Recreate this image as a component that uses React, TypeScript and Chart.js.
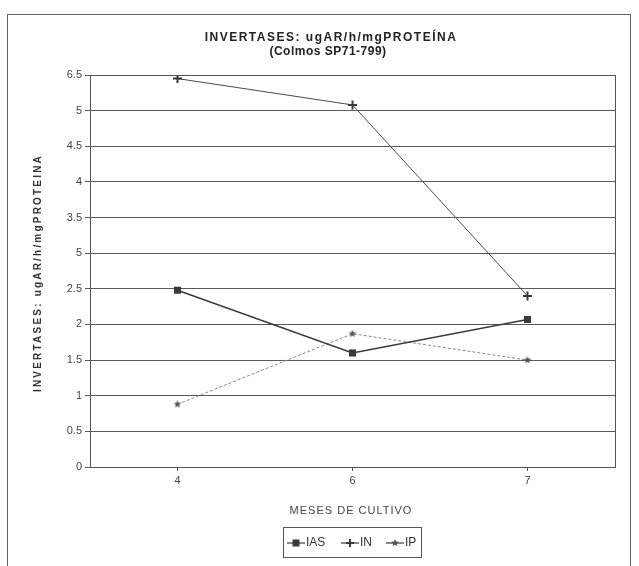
import React, { useEffect, useRef } from "react";
import { Chart, registerables } from "chart.js";

Chart.register(...registerables);

// Months of cultivation (x categories)
const categories = ["4", "6", "7"];

// Invertase activity per series
const iasValues = [2.48, 1.6, 2.07];
const inValues = [5.45, 5.08, 2.4];
const ipValues = [0.88, 1.87, 1.5];

const seriesNames = ["IAS", "IN", "IP"];

// Y tick labels, bottom to top, as printed on the axis
const yTickLabels = ["0", "0.5", "1", "1.5", "2", "2.5", "5", "3.5", "4", "4.5", "5", "6.5"];

const titleLines = ["INVERTASES: ugAR/h/mgPROTEÍNA", "(Colmos SP71-799)"];
const yTitle = "INVERTASES: ugAR/h/mgPROTEINA";
const xTitle = "MESES DE CULTIVO";

const FONT = "'Liberation Sans', Arial, sans-serif";
const NARROW = "'Liberation Sans Narrow', 'Liberation Sans', Arial, sans-serif";
const INK = "#3a3a3a";

function makeStar(size: number, color: string): HTMLCanvasElement {
  const c = document.createElement("canvas");
  c.width = size;
  c.height = size;
  const ctx = c.getContext("2d")!;
  const cx = size / 2;
  const cy = size / 2;
  const outer = size / 2;
  const inner = outer * 0.45;
  ctx.beginPath();
  for (let i = 0; i < 10; i++) {
    const r = i % 2 === 0 ? outer : inner;
    const a = -Math.PI / 2 + (i * Math.PI) / 5;
    const x = cx + r * Math.cos(a);
    const y = cy + r * Math.sin(a);
    if (i === 0) ctx.moveTo(x, y);
    else ctx.lineTo(x, y);
  }
  ctx.closePath();
  ctx.fillStyle = color;
  ctx.fill();
  return c;
}

function drawMarker(ctx: CanvasRenderingContext2D, kind: number, x: number, y: number, star: HTMLCanvasElement) {
  ctx.save();
  ctx.fillStyle = INK;
  ctx.strokeStyle = INK;
  if (kind === 0) {
    ctx.fillRect(x - 3.5, y - 3.5, 7, 7);
  } else if (kind === 1) {
    ctx.lineWidth = 2;
    ctx.beginPath();
    ctx.moveTo(x - 4, y);
    ctx.lineTo(x + 4, y);
    ctx.moveTo(x, y - 4);
    ctx.lineTo(x, y + 4);
    ctx.stroke();
  } else {
    ctx.drawImage(star, x - star.width / 2, y - star.height / 2);
  }
  ctx.restore();
}

export default function App() {
  const canvasRef = useRef<HTMLCanvasElement | null>(null);

  useEffect(() => {
    const canvas = canvasRef.current;
    if (!canvas) return;
    const star = makeStar(8, "#555");

    const decorations = {
      id: "decorations",
      afterDraw(chart: any) {
        const ctx: CanvasRenderingContext2D = chart.ctx;
        const area = chart.chartArea;
        ctx.save();

        // outer frame
        ctx.strokeStyle = "#666";
        ctx.lineWidth = 1;
        ctx.strokeRect(7.5, 14.5, 623, 600);

        // plot frame (top and right edges)
        ctx.strokeStyle = "#555";
        ctx.strokeRect(Math.round(area.left) + 0.5, Math.round(area.top) + 0.5, Math.round(area.right - area.left), Math.round(area.bottom - area.top));

        // title
        ctx.fillStyle = "#222";
        ctx.textAlign = "center";
        ctx.textBaseline = "middle";
        ctx.font = `bold 12px ${FONT}`;
        (ctx as any).letterSpacing = "1.5px";
        ctx.fillText(titleLines[0], 331, 38);
        (ctx as any).letterSpacing = "0.5px";
        ctx.fillText(titleLines[1], 328, 52);

        // y-axis title
        ctx.save();
        ctx.translate(38, (area.top + area.bottom) / 2 + 2);
        ctx.rotate(-Math.PI / 2);
        ctx.font = `bold 10px ${FONT}`;
        (ctx as any).letterSpacing = "2.2px";
        ctx.fillStyle = "#333";
        ctx.fillText(yTitle, 0, 0);
        ctx.restore();

        // x-axis title
        ctx.font = `11px ${FONT}`;
        (ctx as any).letterSpacing = "1px";
        ctx.fillStyle = "#444";
        ctx.fillText(xTitle, 351, 511);

        // legend box
        (ctx as any).letterSpacing = "0px";
        const boxL = 283;
        const boxR = 421;
        const boxT = 527;
        const boxB = 557;
        ctx.strokeStyle = "#555";
        ctx.strokeRect(boxL + 0.5, boxT + 0.5, boxR - boxL, boxB - boxT);
        const cy = (boxT + boxB) / 2 + 1;
        const starts = [287, 341, 386];
        ctx.font = `12px ${NARROW}`;
        ctx.textAlign = "left";
        seriesNames.forEach((name, i) => {
          const x0 = starts[i];
          ctx.strokeStyle = INK;
          ctx.lineWidth = 1.2;
          ctx.setLineDash([]);
          ctx.beginPath();
          ctx.moveTo(x0, cy);
          ctx.lineTo(x0 + 18, cy);
          ctx.stroke();
          drawMarker(ctx, i, x0 + 9, cy, star);
          ctx.fillStyle = "#333";
          ctx.fillText(name, x0 + 19, cy);
        });
        ctx.restore();
      },
    };

    const chart = new Chart(canvas, {
      type: "line",
      data: {
        labels: categories,
        datasets: [
          {
            label: seriesNames[0],
            data: iasValues,
            borderColor: INK,
            borderWidth: 1.4,
            backgroundColor: INK,
            pointStyle: "rect",
            pointRadius: 5,
            pointBorderWidth: 0,
            pointBackgroundColor: INK,
          },
          {
            label: seriesNames[1],
            data: inValues,
            borderColor: "#4a4a4a",
            borderWidth: 1,
            pointStyle: "cross",
            pointRadius: 4.5,
            pointBorderWidth: 2,
            pointBorderColor: INK,
          },
          {
            label: seriesNames[2],
            data: ipValues,
            borderColor: "#888",
            borderWidth: 1,
            borderDash: [3, 2],
            pointStyle: star,
            pointRadius: 4,
          },
        ],
      },
      options: {
        responsive: false,
        animation: false,
        devicePixelRatio: 1,
        layout: { padding: { left: 0, right: 24, top: 75, bottom: 79 } },
        plugins: {
          legend: { display: false },
          title: { display: false },
          tooltip: { enabled: false },
        },
        scales: {
          x: {
            offset: true,
            afterFit: (s: any) => {
              s.height = 20;
            },
            grid: {
              drawOnChartArea: false,
              drawTicks: true,
              tickLength: 4,
              color: "#555",
            },
            border: { color: "#555", width: 1 },
            ticks: {
              padding: 3,
              color: "#444",
              font: { family: FONT, size: 11 },
            },
          },
          y: {
            min: 0,
            max: 5.5,
            afterFit: (s: any) => {
              s.width = 90;
            },
            grid: {
              color: "#5a5a5a",
              lineWidth: 1,
              tickLength: 5,
            },
            border: { color: "#555", width: 1 },
            ticks: {
              stepSize: 0.5,
              padding: 3,
              color: "#444",
              font: { family: FONT, size: 11 },
              callback: (_v: any, i: number) => yTickLabels[i],
            },
          },
        },
      },
      plugins: [decorations],
    });

    return () => chart.destroy();
  }, []);

  return (
    <div style={{ position: "fixed", left: 0, top: 0, width: 639, height: 566, background: "#fff" }}>
      <canvas ref={canvasRef} width={639} height={566} style={{ display: "block", width: 639, height: 566 }} />
    </div>
  );
}
